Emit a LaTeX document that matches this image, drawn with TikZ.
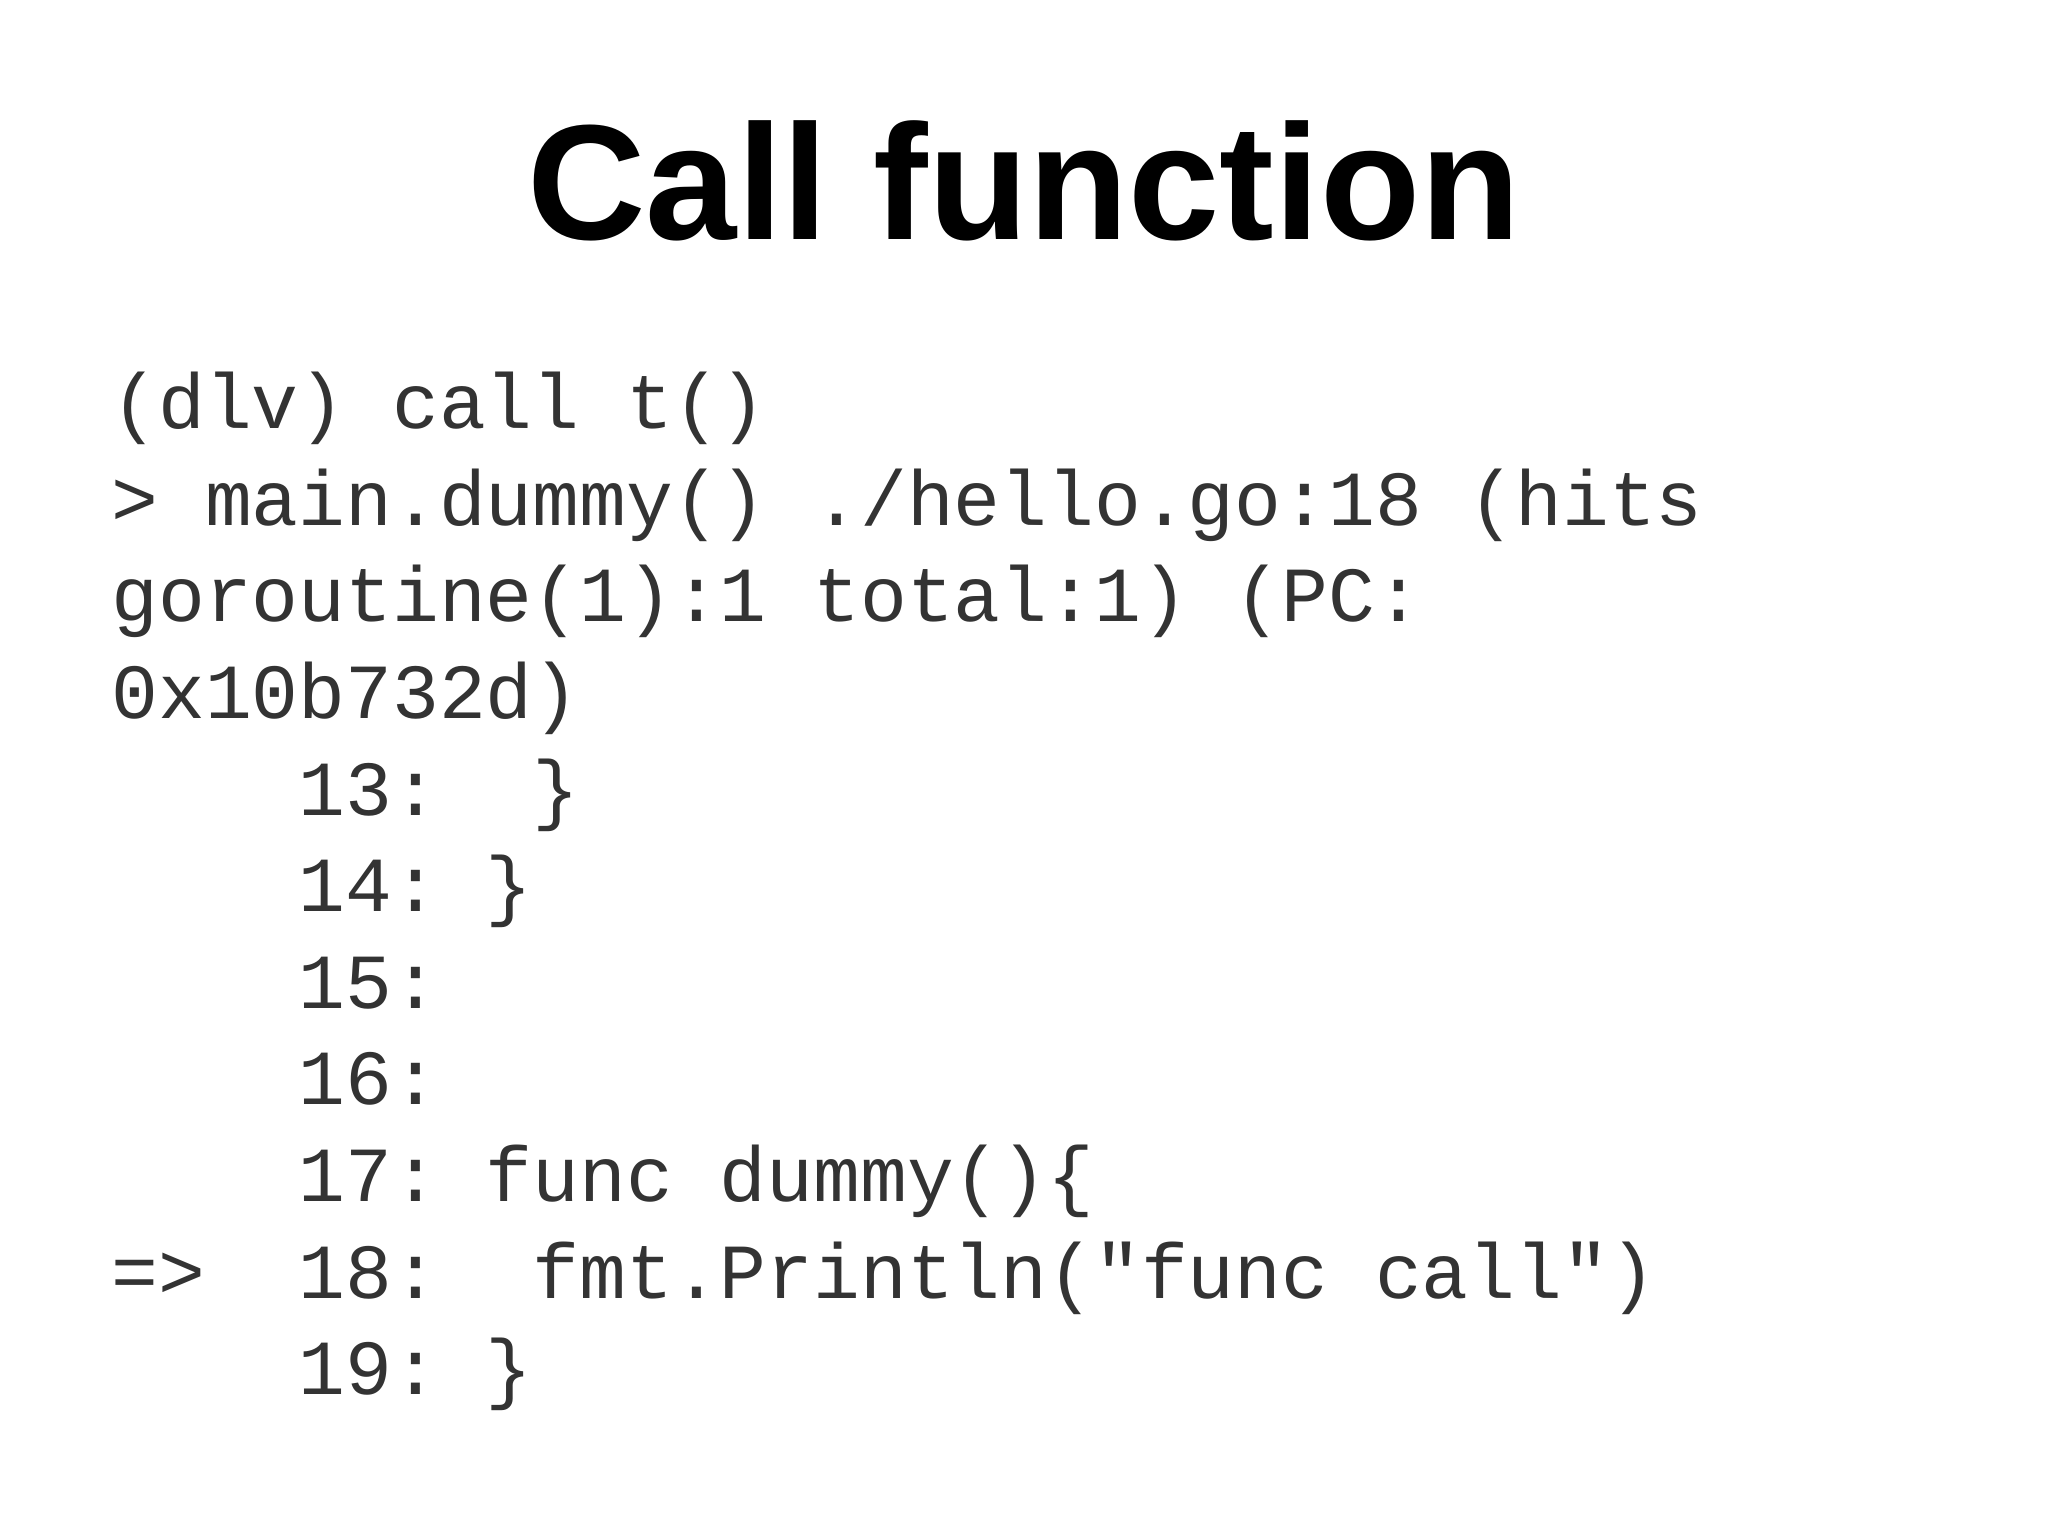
\documentclass[tikz,border=0pt]{standalone}
\usepackage{fontspec}
\setmainfont{Liberation Sans}
\newfontfamily\code{Liberation Mono}
\begin{document}
\begin{tikzpicture}[x=0.653pt,y=-0.653pt,
  ln/.style={anchor=base west,inner sep=0pt,text=black!80,font=\code\fontsize{39pt}{48pt}\selectfont}]
\useasboundingbox[fill=white] (0,0) rectangle (1568,1176);
\node[anchor=base,inner sep=0pt,font=\bfseries\fontsize{82pt}{90pt}\selectfont] (title) at (784,183) {Call function};
\node[ln] (l1) at (85,328) {(dlv) call t()};
\node[ln] (l2) at (85,402) {> main.dummy() ./hello.go:18 (hits};
\node[ln] (l3) at (85,476) {goroutine(1):1 total:1) (PC:};
\node[ln] (l4) at (85,550) {0x10b732d)};
\node[ln] (l5) at (85,624) {\ \ \ \ 13:\ \ \}};
\node[ln] (l6) at (85,698) {\ \ \ \ 14:\ \}};
\node[ln] (l7) at (85,772) {\ \ \ \ 15:};
\node[ln] (l8) at (85,846) {\ \ \ \ 16:};
\node[ln] (l9) at (85,920) {\ \ \ \ 17:\ func dummy()\{};
\node[ln] (l10) at (85,994) {=>\ \ 18:\ \ fmt.Println("func call")};
\node[ln] (l11) at (85,1068) {\ \ \ \ 19:\ \}};
\end{tikzpicture}
\end{document}
